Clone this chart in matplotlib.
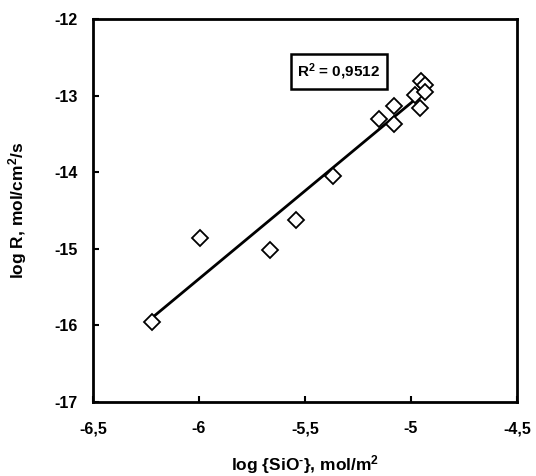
import numpy as np
import matplotlib
matplotlib.use('Agg')
from matplotlib import pyplot as plt
from matplotlib.ticker import FixedLocator, FuncFormatter

plt.rcParams['font.family'] = ['Liberation Sans', 'DejaVu Sans']
plt.rcParams['font.weight'] = 'bold'
plt.rcParams['mathtext.fontset'] = 'custom'
plt.rcParams['mathtext.rm'] = 'Liberation Sans:bold'
plt.rcParams['mathtext.bf'] = 'Liberation Sans:bold'
plt.rcParams['mathtext.default'] = 'bf'

# log {SiO-} (mol/m2) vs log R (mol/cm2/s)
log_sio = [-6.220, -5.995, -5.665, -5.542, -5.366, -5.151, -5.080, -5.080,
           -4.981, -4.953, -4.934, -4.934, -4.958]
log_r = [-15.96, -14.86, -15.02, -14.62, -14.05, -13.31, -13.14, -13.37,
         -12.99, -12.81, -12.86, -12.95, -13.16]
r2_text = 'R$^2$ = 0,9512'
x_ticks = [-6.5, -6.0, -5.5, -5.0, -4.5]
y_ticks = [-17, -16, -15, -14, -13, -12]

fig = plt.figure(figsize=(5.36, 4.76), dpi=100)
ax = fig.add_axes([0.1735, 0.1555, 0.791, 0.8045])

x = np.array(log_sio)
y = np.array(log_r)
k, b = np.polyfit(x, y, 1)
xl = np.array([x.min(), x.max()])
ax.plot(xl, k * xl + b, 'k-', lw=2)
ax.plot(x, y, linestyle='none', marker='D', ms=8, mfc='white', mec='black', mew=1.3)

ax.set_xlim(-6.5, -4.5)
ax.set_ylim(-17, -12)
ax.xaxis.set_major_locator(FixedLocator(x_ticks))
ax.yaxis.set_major_locator(FixedLocator(y_ticks))
fmt = lambda v, pos: ('%g' % v).replace('.', ',')
ax.xaxis.set_major_formatter(FuncFormatter(fmt))
ax.yaxis.set_major_formatter(FuncFormatter(fmt))
ax.tick_params(direction='in', length=4, width=1.5, labelsize=11.5)
ax.tick_params(axis='x', pad=14)
ax.tick_params(axis='y', pad=11)
for s in ax.spines.values():
    s.set_linewidth(2)

ax.set_xlabel('log {SiO$^{\u2010}$}, mol/m$^2$', fontsize=12.5, fontweight='bold', labelpad=12)
ax.set_ylabel('log R, mol/cm$^2$/s', fontsize=12.5, fontweight='bold', labelpad=18)

ax.text(0.58, 0.863, r2_text, transform=ax.transAxes, ha='center', va='center',
        fontsize=11, fontweight='bold',
        bbox=dict(boxstyle='square,pad=0.45', fc='white', ec='black', lw=1.8))

fig.savefig('out.png', dpi=100)
